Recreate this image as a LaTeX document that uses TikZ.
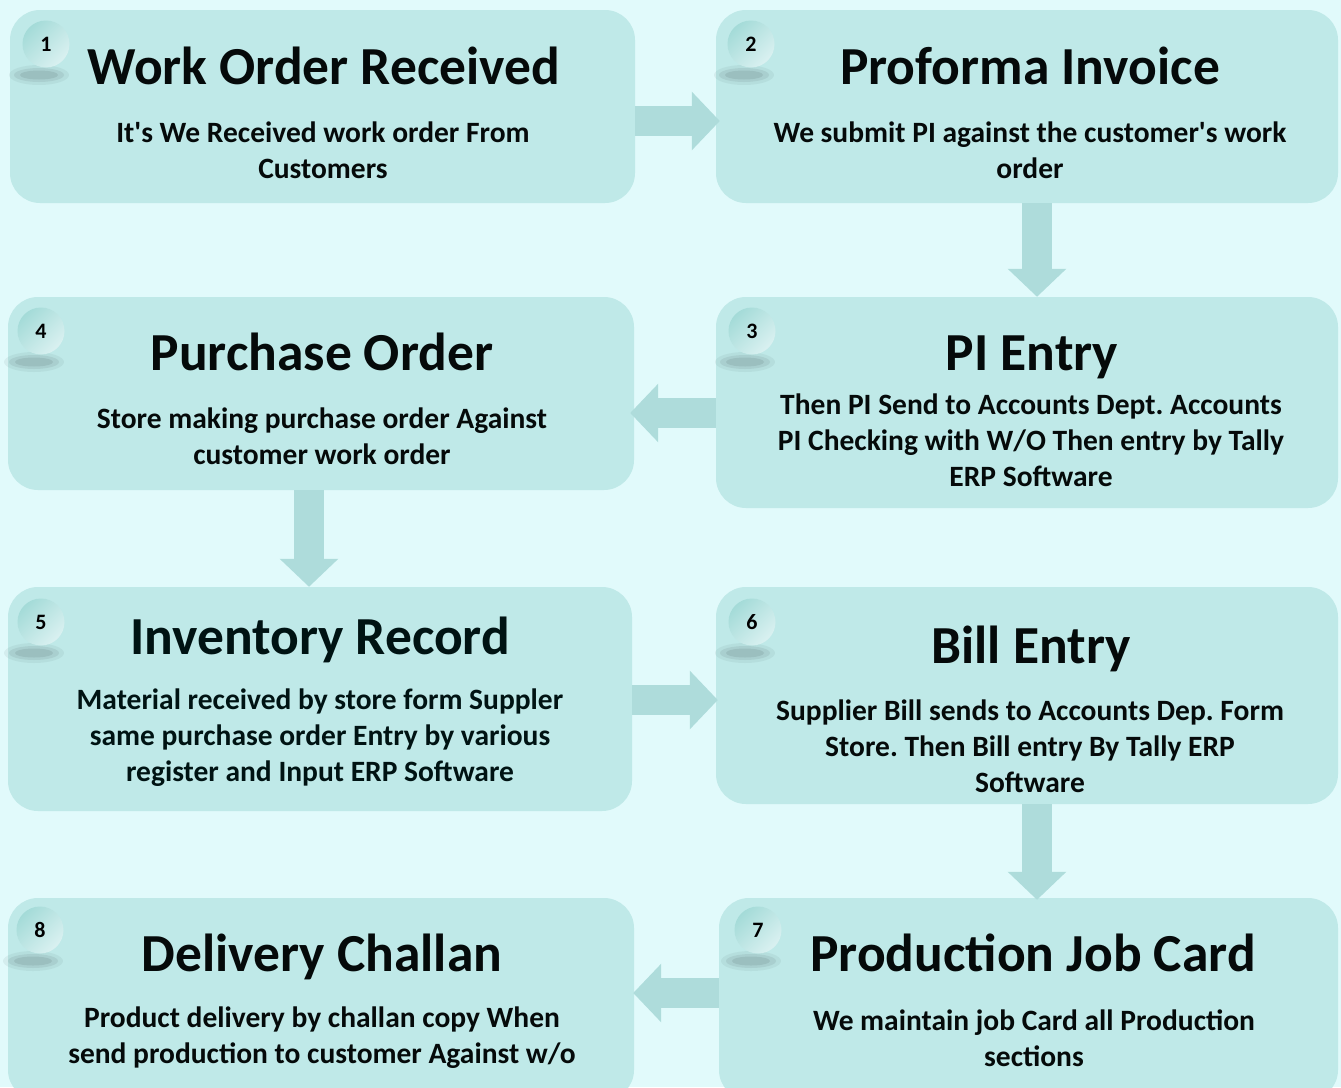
\documentclass[tikz,border=0pt]{standalone}
\usepackage{fontspec}
\setmainfont{Carlito}
\usepackage{tikz}
\usetikzlibrary{arrows.meta}
\frenchspacing

\definecolor{bgc}{HTML}{E1FAFB}
\definecolor{boxc}{HTML}{BFE9E8}
\definecolor{arrc}{HTML}{AEDCDB}
\definecolor{badgeA}{HTML}{A4DBD8}
\definecolor{badgeB}{HTML}{DAF1F1}
\definecolor{inkc}{HTML}{050A0A}

\tikzset{
  panel/.style={fill=boxc, rounded corners=30pt, inner sep=0pt},
  title/.style={anchor=base, inner sep=0pt, text=inkc, font=\fontsize{53.5}{58}\selectfont\bfseries},
  descr/.style={anchor=center, inner sep=0pt, align=center, text=inkc, font=\fontsize{29.5}{36}\selectfont\bfseries},
  badge/.style={circle, minimum size=47pt, inner sep=0pt, top color=badgeA, bottom color=badgeB, shading angle=45, font=\fontsize{22}{23}\selectfont\bfseries},
  flow/.style={line width=30pt, draw=arrc, -{Triangle[length=28pt,width=57pt]}}
}

\newcommand{\badgeshadow}[2]{%
  \fill[gray!80!teal, opacity=0.10] (#1-7,#2+31) ellipse [x radius=30, y radius=10];
  \fill[gray!80!teal, opacity=0.15] (#1-7,#2+31) ellipse [x radius=25, y radius=7];
  \fill[gray!80!teal, opacity=0.20] (#1-7,#2+31) ellipse [x radius=19, y radius=4.5];
}

\begin{document}
\begin{tikzpicture}[x=1pt,y=-1pt]
	\clip (0,0) rectangle (1341,1087);
	\fill[bgc] (0,0) rectangle (1341,1087);
	% panels
	\node (w1) at (322.5,106.5) [panel, minimum width=625pt, minimum height=193pt] {};
	\node (w2) at (1027,106.5) [panel, minimum width=622pt, minimum height=193pt] {};
	\node (w3) at (1027,402.5) [panel, minimum width=622pt, minimum height=211pt] {};
	\node (w4) at (321,393.5) [panel, minimum width=626pt, minimum height=193pt] {};
	\node (w5) at (320,699) [panel, minimum width=624pt, minimum height=224pt] {};
	\node (w6) at (1027,695.5) [panel, minimum width=622pt, minimum height=217pt] {};
	\node (w7) at (1028.5,999) [panel, minimum width=619pt, minimum height=202pt] {};
	\node (w8) at (321,999) [panel, minimum width=626pt, minimum height=202pt] {};
	% arrows
	\draw[flow] ([yshift=-14.5pt]w1.east) -- ([yshift=-14.5pt,xshift=4pt]w2.west);
	\draw[flow] ([xshift=10pt]w2.south) -- ([xshift=10pt]w3.north);
	\draw[flow] ([yshift=-10.5pt]w3.west) -- ([yshift=-19.5pt,xshift=-4pt]w4.east);
	\draw[flow] ([xshift=-12pt]w4.south) -- ([xshift=-11pt]w5.north);
	\draw[flow] ([yshift=-1pt]w5.east) -- ([yshift=-4.5pt,xshift=2pt]w6.west);
	\draw[flow] ([xshift=10pt]w6.south) -- ([xshift=8.5pt,yshift=-2pt]w7.north);
	\draw[flow] ([yshift=6pt]w7.west) -- ([yshift=6pt,xshift=-1pt]w8.east);
	% badges
	\foreach \bx/\by/\bn in {46/44/1, 751/44/2, 752/331/3, 41/331/4, 41/622/5, 752/622/6, 758/930/7, 40/930/8}{
		\badgeshadow{\bx}{\by}
		\node (n\bn) at (\bx,\by) [badge] {\bn};
	}
	% titles
	\node (t1) at (324,84) [title] {Work Order Received};
	\node (t2) at (1030,84) [title] {Proforma Invoice};
	\node (t3) at (1032,370) [title] {PI Entry};
	\node (t4) at (322,370) [title] {Purchase Order};
	\node (t5) at (320,654) [title, text=black!85!teal] {Inventory Record};
	\node (t6) at (1031,663) [title] {Bill Entry};
	\node (t7) at (1033,971) [title] {Production Job Card};
	\node (t8) at (322,971) [title] {Delivery Challan};
	% descriptions
	\node (d1) at (323,150) [descr] {It\textquotesingle s We Received work order From\\Customers};
	\node (d2) at (1030,150) [descr] {We submit PI against the customer\textquotesingle s work\\order};
	\node (d3) at (1031,440) [descr] {Then PI Send to Accounts Dept. Accounts\\PI Checking with W/O Then entry by Tally\\ERP Software};
	\node (d4) at (322,436.5) [descr] {Store making purchase order Against\\customer work order};
	\node (d5) at (320,738) [descr, text=black!85!teal] {Material received by store form Suppler\\same purchase order Entry by various\\register and Input ERP Software};
	\node (d6) at (1030,746) [descr] {Supplier Bill sends to Accounts Dep. Form\\Store. Then Bill entry By Tally ERP\\Software};
	\node (d7) at (1034,1038) [descr] {We maintain job Card all Production\\sections};
	\node (d8) at (322,1038) [descr] {Product delivery by challan copy When\\send production to customer Against w/o};
\end{tikzpicture}
\end{document}
